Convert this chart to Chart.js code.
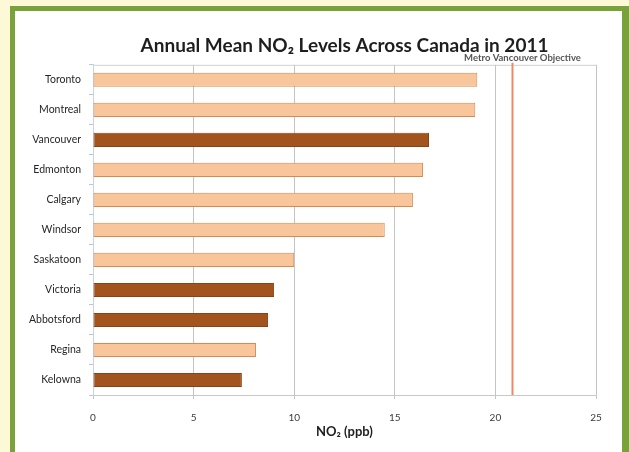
<!DOCTYPE html>
<html><head><meta charset="utf-8">
<script src="https://cdn.jsdelivr.net/npm/chart.js@4/dist/chart.umd.min.js"></script>
<style>
html,body{margin:0;padding:0;width:629px;height:452px;overflow:hidden;background:#fdf8d6;}
#frame{position:absolute;left:10px;top:6px;width:619px;height:460px;background:#79a33a;}
#inner{position:absolute;left:15px;top:11px;width:607px;height:441px;background:#ffffff;}
canvas{display:block;}
</style></head>
<body>
<div id="frame"></div>
<div id="inner"><canvas id="c" width="607" height="441"></canvas></div>
<script>
const cities = ["Toronto","Montreal","Vancouver","Edmonton","Calgary","Windsor","Saskatoon","Victoria","Abbotsford","Regina","Kelowna"];
const no2Values = [19.1, 19.0, 16.7, 16.4, 15.9, 14.5, 10.0, 9.0, 8.7, 8.1, 7.4];
const bcCity = [false,false,true,false,false,false,false,true,true,false,true];
const xTicks = [0,5,10,15,20,25];
const objectiveValue = 20.85;
const objectiveLabel = "Metro Vancouver Objective";

const lightFill = "#f9c69b", lightBorder = "#d48a55";
const darkFill = "#a3531d", darkBorder = "#8a4414";

const objectivePlugin = {
  id: "objective",
  beforeDatasetsDraw(chart) {
    const {ctx, chartArea: a} = chart;
    ctx.save();
    ctx.strokeStyle = "#d0d0d0";
    ctx.lineWidth = 1;
    ctx.beginPath();
    ctx.moveTo(a.left, a.top + 0.5);
    ctx.lineTo(a.right, a.top + 0.5);
    ctx.stroke();
    ctx.restore();
  },
  afterDatasetsDraw(chart) {
    const {ctx, chartArea: a, scales} = chart;
    const x = scales.x.getPixelForValue(objectiveValue);
    ctx.save();
    ctx.strokeStyle = "#ec8a66";
    ctx.lineWidth = 2;
    ctx.beginPath();
    ctx.moveTo(x, a.top - 2);
    ctx.lineTo(x, a.bottom);
    ctx.stroke();
    ctx.fillStyle = "#555555";
    ctx.font = "bold 9.5px Lato, sans-serif";
    ctx.textAlign = "center";
    ctx.textBaseline = "middle";
    ctx.fillText(objectiveLabel, x + 10, a.top - 7);
    ctx.restore();
  }
};

new Chart(document.getElementById("c"), {
  type: "bar",
  data: {
    labels: cities,
    datasets: [{
      data: no2Values,
      backgroundColor: bcCity.map(b => b ? darkFill : lightFill),
      borderColor: bcCity.map(b => b ? darkBorder : lightBorder),
      borderWidth: 1,
      borderSkipped: false,
      barPercentage: 0.47,
      categoryPercentage: 1.0
    }]
  },
  options: {
    indexAxis: "y",
    responsive: false,
    animation: false,
    layout: {padding: {left: 0, right: 26, top: 0, bottom: 0}},
    plugins: {
      legend: {display: false},
      tooltip: {enabled: false},
      title: {
        display: true,
        fullSize: false,
        text: "Annual Mean NO\u2082 Levels Across Canada in 2011",
        color: "#1e1e1e",
        font: {family: "Lato, sans-serif", size: 19, weight: "bold"},
        padding: {top: 23, bottom: 8}
      }
    },
    scales: {
      x: {
        min: 0, max: 25,
        afterBuildTicks(scale) { scale.ticks = xTicks.map(v => ({value: v})); },
        afterFit(scale) { scale.height = 57; },
        grid: {color: "#c4c4c4", tickLength: 4, drawTicks: true},
        border: {color: "#c8c8c8"},
        ticks: {color: "#3a3a3a", padding: 13, font: {family: "Lato, sans-serif", size: 10}},
        title: {
          display: true,
          text: "NO\u2082 (ppb)",
          color: "#1e1e1e",
          font: {family: "Lato, sans-serif", size: 13, weight: "bold"},
          padding: {top: 12, bottom: 12}
        }
      },
      y: {
        afterFit(scale) { scale.width = 78; },
        grid: {drawOnChartArea: false, drawTicks: true, tickLength: 4, color: "#b8c8dc", offset: true},
        border: {color: "#c8d4e4"},
        ticks: {color: "#262626", padding: 8, font: {family: "Lato, sans-serif", size: 10.5}}
      }
    }
  },
  plugins: [objectivePlugin]
});
</script>
</body></html>
